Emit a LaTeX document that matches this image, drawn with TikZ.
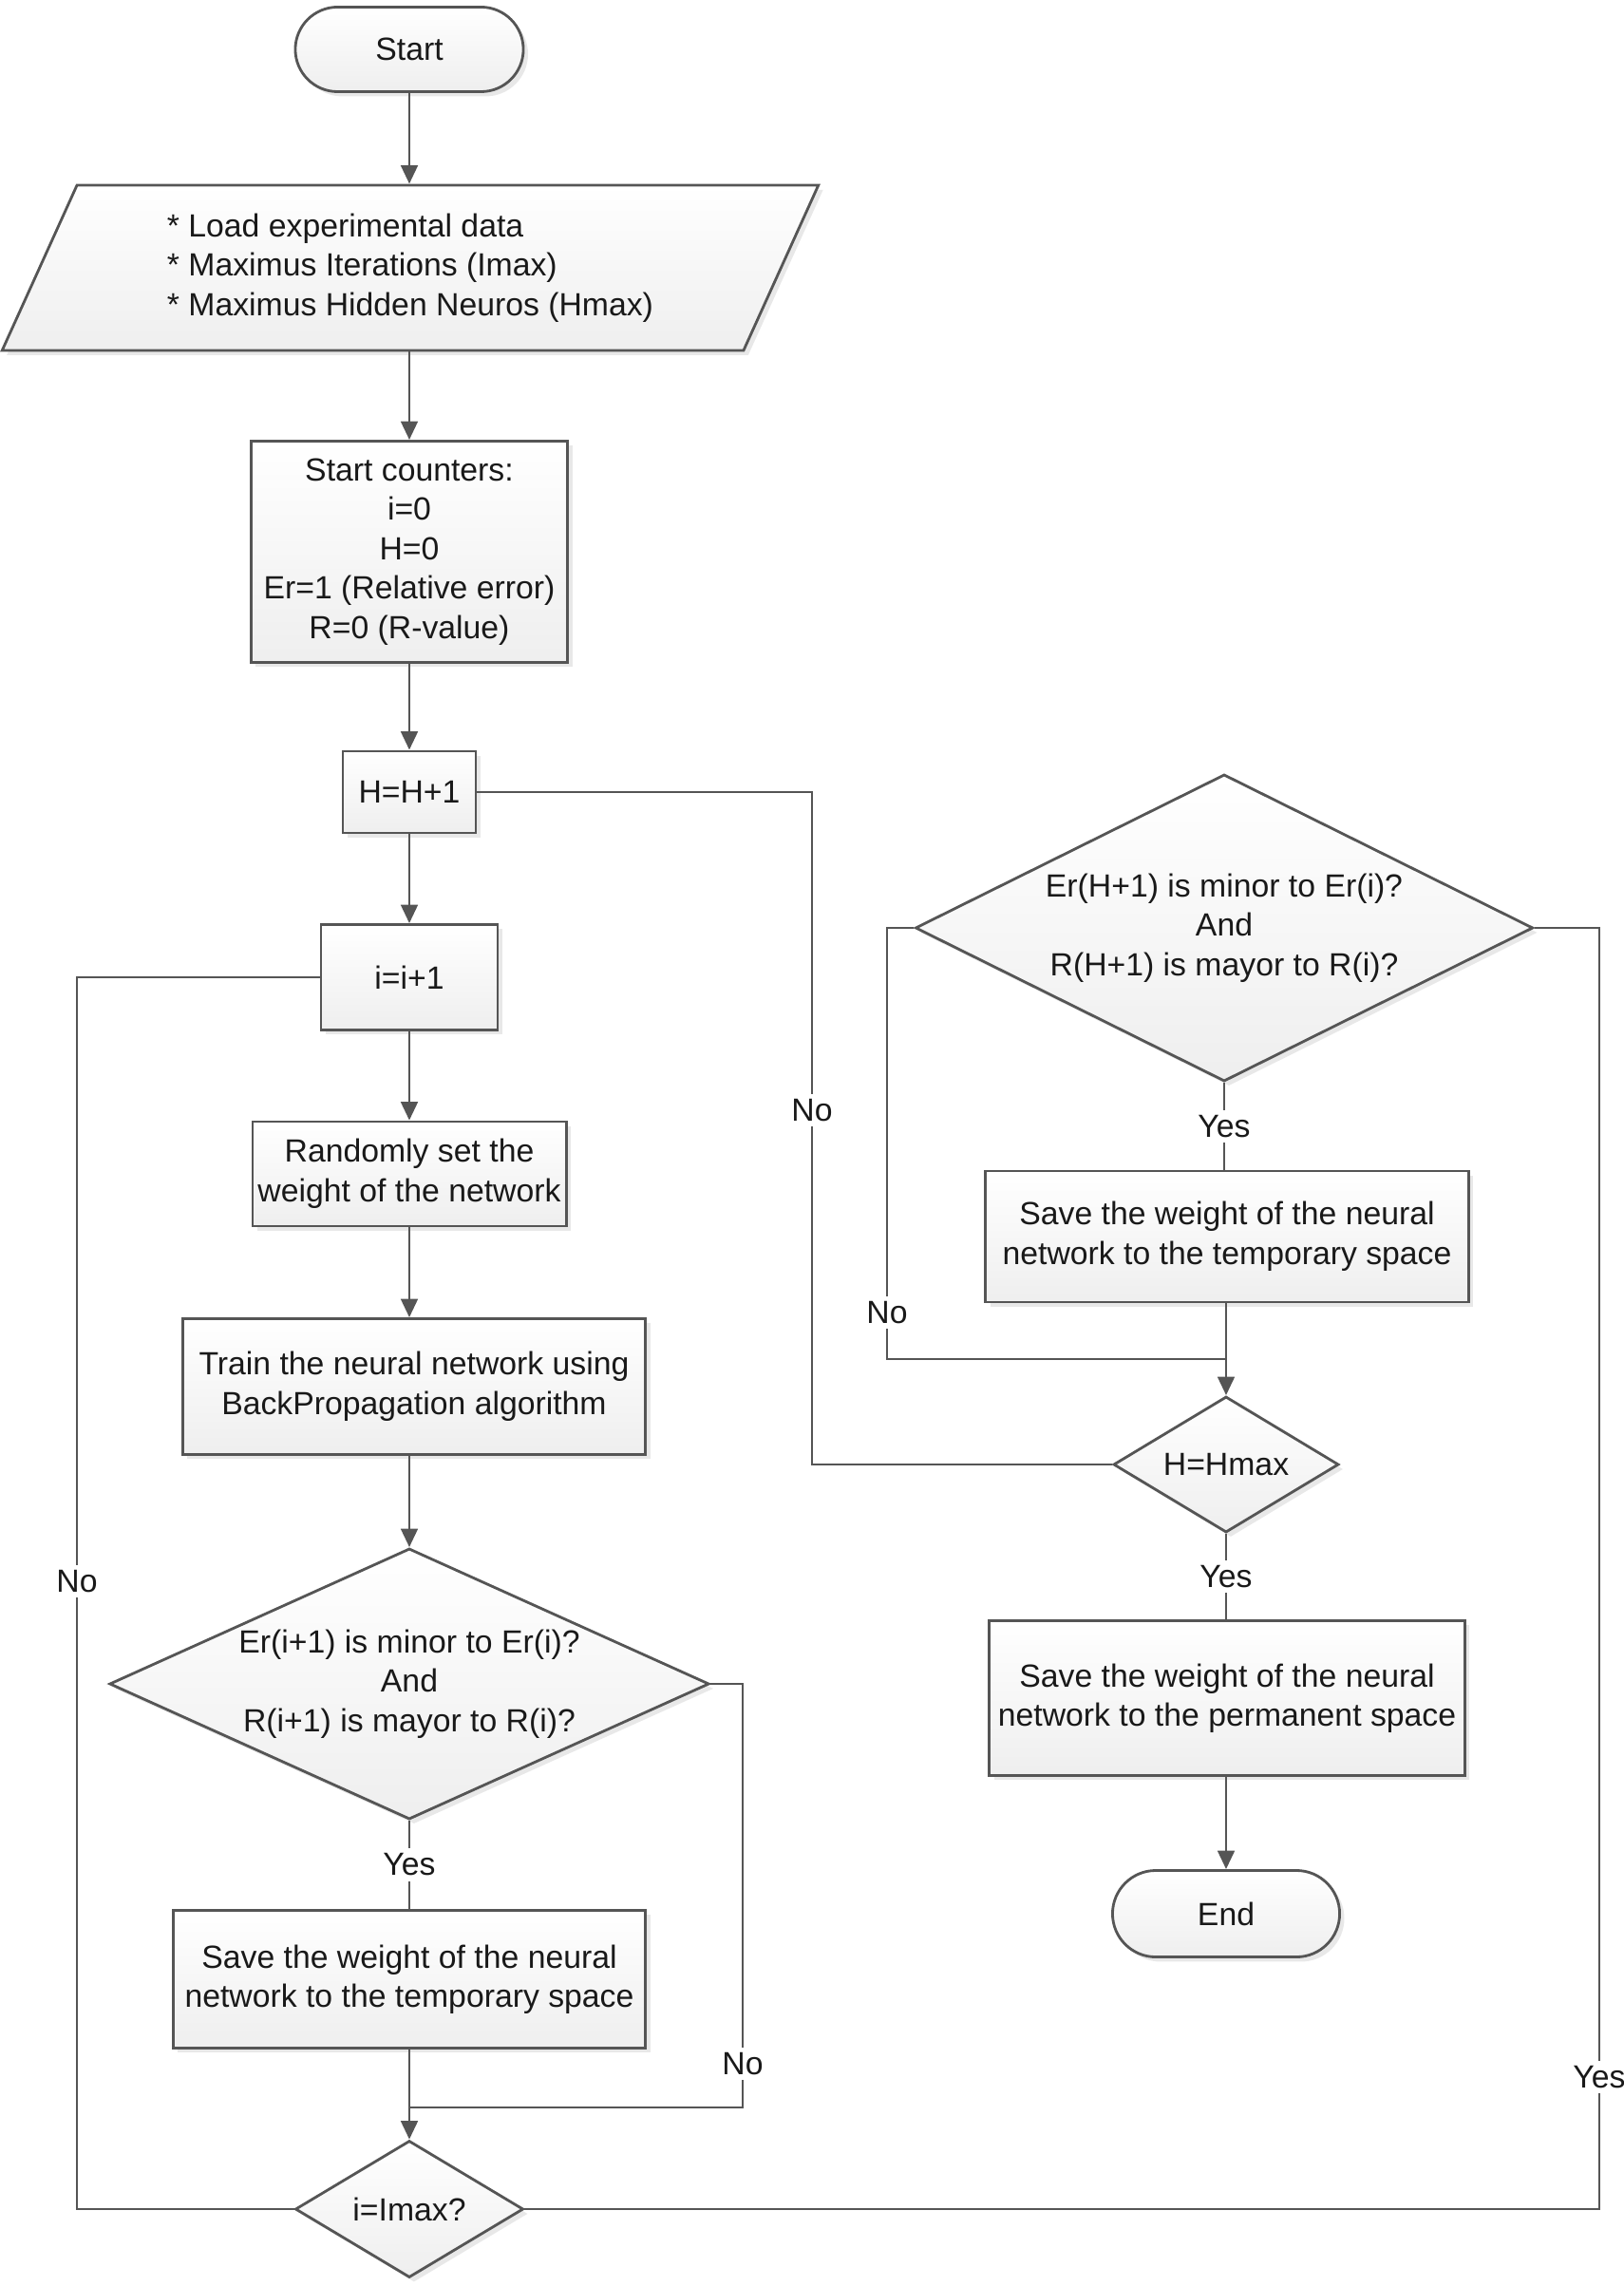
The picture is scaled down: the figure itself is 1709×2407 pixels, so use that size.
\documentclass[tikz,border=0pt]{standalone}
\usepackage{fontspec}
\setmainfont{Liberation Sans}
\usetikzlibrary{shapes.geometric,shapes.misc,arrows.meta,shadows}
\definecolor{ln}{RGB}{85,85,85}
\definecolor{tx}{RGB}{25,25,25}
\begin{document}
\begin{tikzpicture}[x=0.01cm,y=-0.01cm,
  font=\fontsize{9.6}{11.8}\selectfont, text=tx,
  base/.style={draw=ln, line width=0.8pt, top color=white, bottom color=gray!13,
    drop shadow={shadow xshift=1.4pt, shadow yshift=-1.4pt, fill=gray!35, opacity=0.5},
    align=center, inner sep=0pt},
  box/.style={base, rectangle},
  term/.style={base, rounded rectangle},
  decis/.style={base, diamond},
  line/.style={draw=ln, line width=0.8pt},
  arr/.style={line, -{Triangle[length=5.5pt,width=5pt]}},
  lbl/.style={fill=white, inner sep=1.5pt}
]
\useasboundingbox (0,0) rectangle (1709,2407);

% left column
\node[term, minimum width=2.40cm, minimum height=0.89cm] (start) at (431,52) {Start};
\node[base, trapezium, trapezium left angle=63.3, trapezium right angle=116.7,
      trapezium stretches=true, minimum width=8.60cm, minimum height=1.74cm,
      align=left] (load) at (432,282)
  {* Load experimental data\\* Maximus Iterations (Imax)\\* Maximus Hidden Neuros (Hmax)};
\node[box, minimum width=3.33cm, minimum height=2.33cm] (cnt) at (431,581)
  {Start counters:\\i=0\\H=0\\Er=1 (Relative error)\\R=0 (R-value)};
\node[box, minimum width=1.40cm, minimum height=0.86cm] (hinc) at (431,834) {H=H+1};
\node[box, minimum width=1.86cm, minimum height=1.11cm] (iinc) at (431,1029) {i=i+1};
\node[box, minimum width=3.30cm, minimum height=1.10cm] (rnd) at (431,1236)
  {Randomly set the\\weight of the network};
\node[box, minimum width=4.87cm, minimum height=1.43cm] (trn) at (436,1460)
  {Train the neural network using\\BackPropagation algorithm};
\node[decis, shape aspect=2.2, minimum width=6.31cm, minimum height=2.85cm] (dl) at (431,1773)
  {Er(i+1) is minor to Er(i)?\\And\\R(i+1) is mayor to R(i)?};
\node[box, minimum width=4.97cm, minimum height=1.45cm] (savl) at (431,2084)
  {Save the weight of the neural\\network to the temporary space};
\node[decis, shape aspect=1.67, minimum width=2.40cm, minimum height=1.44cm] (imax) at (431,2326)
  {i=Imax?};

% right column
\node[decis, shape aspect=2.0, minimum width=6.50cm, minimum height=3.23cm] (dr) at (1289,977)
  {Er(H+1) is minor to Er(i)?\\And\\R(H+1) is mayor to R(i)?};
\node[box, minimum width=5.08cm, minimum height=1.38cm] (savr) at (1292,1302)
  {Save the weight of the neural\\network to the temporary space};
\node[decis, shape aspect=1.66, minimum width=2.37cm, minimum height=1.43cm] (hmax) at (1291,1542)
  {H=Hmax};
\node[box, minimum width=5.00cm, minimum height=1.63cm] (perm) at (1292,1788)
  {Save the weight of the neural\\network to the permanent space};
\node[term, minimum width=2.39cm, minimum height=0.91cm] (end) at (1291,2015) {End};

% joins
\coordinate (jl) at (431,2219);
\coordinate (jr) at (1291,1431);

% main flow arrows
\draw[arr] (start.south) -- (start.south |- load.north);
\draw[arr] (cnt.north |- load.south) -- (cnt.north);
\draw[arr] (cnt.south) -- (hinc.north);
\draw[arr] (hinc.south) -- (iinc.north);
\draw[arr] (iinc.south) -- (rnd.north);
\draw[arr] (rnd.south) -- (rnd.south |- trn.north);
\draw[arr] (dl.north |- trn.south) -- (dl.north);
\draw[line] (dl.south) -- node[lbl, pos=0.5] {Yes} (dl.south |- savl.north);
\draw[arr] (savl.south) -- (imax.north);
\draw[line] (dl.east) -| (782,2219) -- (jl);
\node[lbl] (nol) at (782,2173) {No};
\draw[line] (imax.west) -| (81,1029) -- (iinc.west);
\node[lbl] (noi) at (81,1665) {No};
\draw[line] (imax.east) -| (1684,977) -- (dr.east);
\node[lbl] (yesi) at (1684,2187) {Yes};

\draw[line] (dr.south) -- node[lbl, pos=0.5] {Yes} (dr.south |- savr.north);
\draw[line] (dr.west) -| (934,1431) -- (jr);
\node[lbl] (nor) at (934,1382) {No};
\draw[arr] (savr.south -| hmax.north) -- (hmax.north);
\draw[line] (hmax.west) -| (855,834) -- (hinc.east);
\node[lbl] (noh) at (855,1169) {No};
\draw[line] (hmax.south) -- node[lbl, pos=0.5] {Yes} (hmax.south |- perm.north);
\draw[arr] (end.north |- perm.south) -- (end.north);
\end{tikzpicture}
\end{document}
